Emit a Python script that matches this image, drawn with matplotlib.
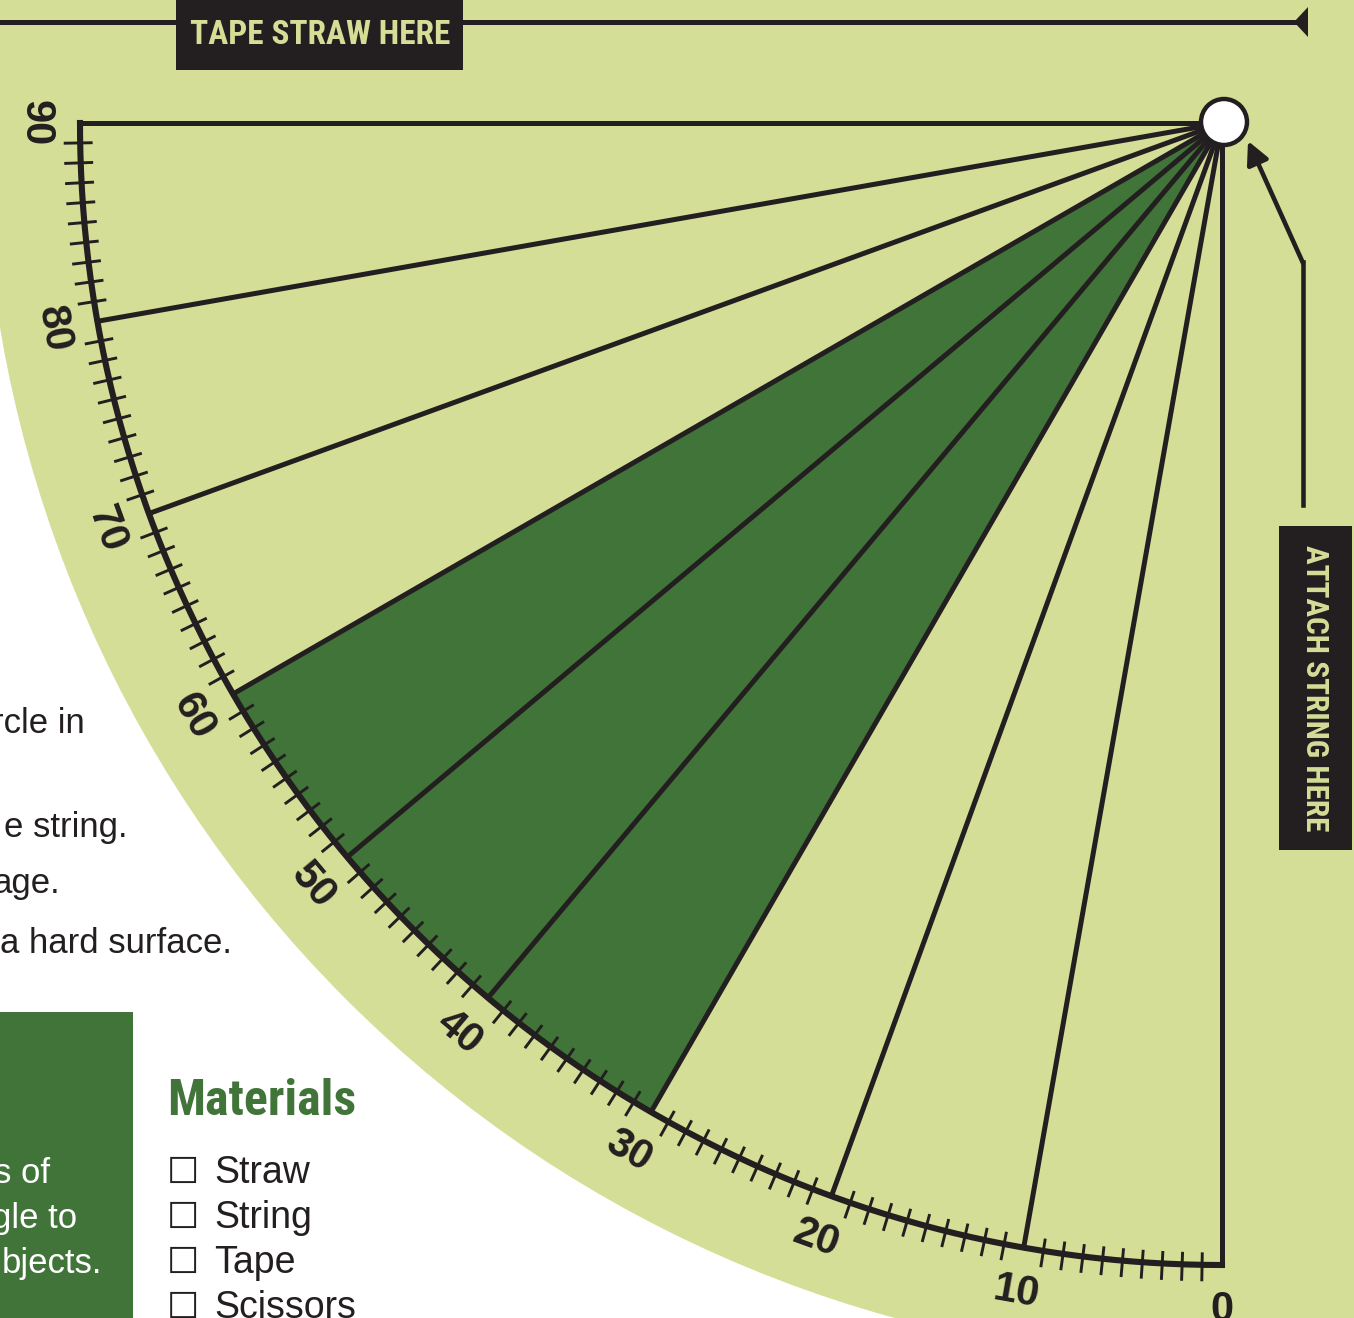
import numpy as np
import matplotlib
matplotlib.use('Agg')
import matplotlib.pyplot as plt
from matplotlib.patches import Circle, Polygon, Rectangle
from matplotlib import font_manager

# ---------------- data ----------------
major_angles = [0, 10, 20, 30, 40, 50, 60, 70, 80, 90]
major_labels = ['0', '10', '20', '30', '40', '50', '60', '70', '80', '90']
minor_angles = [a for a in range(1, 90) if a % 10 != 0]
shaded_range = [30, 60]
materials = ['Straw', 'String', 'Tape', 'Scissors']
steps_text = ['rcle in', 'e string.', 'age.', 'a hard surface.']
intro_text = ['s of', 'gle to', 'bjects.']
top_label = 'TAPE STRAW HERE'
side_label = 'ATTACH STRING HERE'
heading = 'Materials'

# ---------------- style ----------------
LIGHT = '#d4de97'
DARK = '#417439'
INK = '#231f20'

available = {f.name for f in font_manager.fontManager.ttflist}
def pick(*names):
    for n in names:
        if n in available:
            return n
    return 'DejaVu Sans'
NARROW = pick('Liberation Sans Narrow', 'Roboto Condensed', 'Open Sans Condensed', 'Liberation Sans')
SANS = pick('Liberation Sans', 'Arial', 'DejaVu Sans')

fig = plt.figure(figsize=(13.54, 13.18), dpi=100)
ax = fig.add_axes([0, 0, 1, 1])
ax.set_xlim(0, 1354)
ax.set_ylim(1318, 0)
ax.axis('off')

cx, cy = 1222, 123
R = 1142
R_BG = 1239
R_LAB = 1187

def pt(theta, r):
    t = np.radians(theta)
    return cx - r * np.sin(t), cy + r * np.cos(t)

# background disc
ax.add_patch(Circle((cx, cy), R_BG, fc=LIGHT, ec='none', zorder=0))

# shaded wedge
th = np.linspace(shaded_range[0], shaded_range[1], 200)
xs, ys = pt(th, R)
poly = [(cx, cy)] + list(zip(xs, ys))
ax.add_patch(Polygon(poly, closed=True, fc=DARK, ec='none', zorder=1))

# radial lines
for a in major_angles:
    x1, y1 = pt(a, R)
    ax.plot([cx, x1], [cy, y1], color=INK, lw=3.6, solid_capstyle='projecting', zorder=3)

# arc
th = np.linspace(0, 90, 400)
xs, ys = pt(th, R)
ax.plot(xs, ys, color=INK, lw=4.4, solid_joinstyle='miter', solid_capstyle='projecting', zorder=4)

# minor ticks
for a in minor_angles:
    xa, ya = pt(a, R - 11)
    xb, yb = pt(a, R + 15)
    ax.plot([xa, xb], [ya, yb], color=INK, lw=2.1, zorder=4)

# labels
for a, lab in zip(major_angles, major_labels):
    x, y = pt(a, R_LAB)
    ax.text(x, y, lab, rotation=-a, rotation_mode='anchor', ha='center', va='center',
            fontsize=30, fontweight='bold', family=[SANS, 'DejaVu Sans'], color=INK, zorder=5)

# hole
ax.add_patch(Circle((cx + 2, cy - 1), 23, fc='white', ec=INK, lw=3.2, zorder=6))

# top straw line with arrow head
ax.plot([0, 1298], [22, 22], color=INK, lw=3.6, zorder=3)
ax.add_patch(Polygon([(1294, 22), (1308, 7), (1308, 37)], closed=True, fc=INK, ec='none', zorder=3))
ax.add_patch(Rectangle((176, 0), 287, 70, fc=INK, ec='none', zorder=5))
ax.text(320, 35, top_label, ha='center', va='center', fontsize=24, fontweight='bold',
        family=[NARROW, 'DejaVu Sans'], color=LIGHT, zorder=6)

# attach string arrow
ax.plot([1303, 1303], [505, 262], color=INK, lw=3.3, zorder=3)
ax.annotate('', xy=(1248, 141), xytext=(1303, 263),
            arrowprops=dict(arrowstyle='-|>', lw=3.3, color=INK, mutation_scale=34,
                            shrinkA=0, shrinkB=0), zorder=3)
ax.add_patch(Rectangle((1279, 526), 73, 324, fc=INK, ec='none', zorder=5))
ax.text(1315, 688, side_label, ha='center', va='center', rotation=-90, fontsize=22.5,
        fontweight='bold', family=[NARROW, 'DejaVu Sans'], color=LIGHT, zorder=6)

# left instruction text (cut off)
for txt, xr, yb in zip(steps_text, [85, 127, 60, 232], [733, 837, 893, 953]):
    ax.text(xr, yb, txt, ha='right', va='baseline', fontsize=25, family=[SANS, 'DejaVu Sans'],
            color=INK, zorder=5)

# dark green intro box
ax.add_patch(Rectangle((0, 1012), 133, 320, fc=DARK, ec='none', zorder=1))
for txt, xr, yb in zip(intro_text, [50, 77, 102], [1183, 1228, 1273]):
    ax.text(xr, yb, txt, ha='right', va='baseline', fontsize=25, family=[SANS, 'DejaVu Sans'],
            color='white', zorder=5)

# materials
ax.text(167, 1115, heading, ha='left', va='baseline', fontsize=36, fontweight='bold',
        family=[NARROW, 'DejaVu Sans'], color=DARK, zorder=5)
for i, m in enumerate(materials):
    yb = 1183 + 45 * i
    ax.text(167, yb, '\u2610', ha='left', va='baseline', fontsize=26, family=['DejaVu Sans'],
            color=INK, zorder=5)
    ax.text(214, yb, m, ha='left', va='baseline', fontsize=27, family=[SANS, 'DejaVu Sans'],
            color=INK, zorder=5)

fig.savefig('out.png', dpi=100, facecolor='white')
